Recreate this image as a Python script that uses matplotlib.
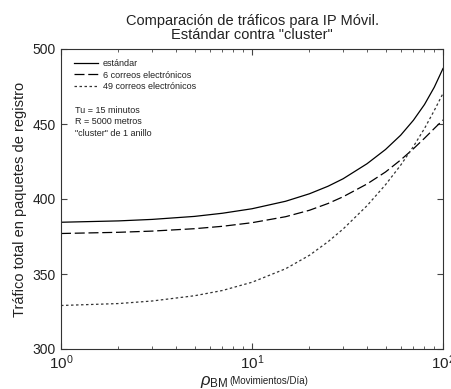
import matplotlib
matplotlib.use("Agg")
import matplotlib.pyplot as plt
from matplotlib.ticker import LogLocator, NullFormatter

plt.rcParams['font.family'] = ['Liberation Sans', 'DejaVu Sans']
plt.rcParams['mathtext.fontset'] = 'custom'
plt.rcParams['mathtext.rm'] = 'Liberation Sans'
plt.rcParams['mathtext.it'] = 'Liberation Sans:italic'

# movement rate (per day)
rho = [1, 2, 3, 5, 7, 10, 15, 20, 25, 30, 40, 50, 60, 70, 80, 90, 100]

# total traffic in registration packets
estandar = [384.5, 385.4, 386.4, 388.4, 390.5, 393.5, 398.5, 403.5, 408.5, 413.5,
            423.5, 433.0, 442.5, 452.5, 463.0, 474.5, 487.0]
correos_6 = [377.0, 377.8, 378.6, 380.2, 381.8, 384.2, 388.2, 392.5, 397.0, 401.5,
             410.0, 418.0, 426.0, 433.5, 440.5, 447.0, 452.7]
correos_49 = [329.0, 330.3, 332.0, 335.5, 339.0, 344.5, 353.5, 362.5, 371.5, 380.0,
              395.5, 409.5, 422.5, 435.0, 447.0, 459.0, 470.4]

labels = ['estándar', '6 correos electrónicos', '49 correos electrónicos']
notes = ['Tu = 15 minutos', 'R = 5000 metros', '"cluster" de 1 anillo']

W, H = 451, 389
fig = plt.figure(figsize=(W / 100, H / 100), dpi=100)
ax = fig.add_axes([61 / W, 1 - 349 / H, 382 / W, 300 / H])

ax.plot(rho, estandar, color='black', lw=0.9, label=labels[0])
ax.plot(rho, correos_6, color='black', lw=0.9, dashes=(8, 3), label=labels[1])
ax.plot(rho, correos_49, color='#333333', lw=0.9, dashes=(2, 2), label=labels[2])

ax.set_xscale('log')
ax.set_xlim(1, 100)
ax.set_ylim(300, 500)
ax.set_yticks([300, 350, 400, 450, 500])
ax.xaxis.set_major_locator(LogLocator(base=10, numticks=5))
ax.xaxis.set_minor_locator(LogLocator(base=10, subs=range(2, 10), numticks=20))
ax.xaxis.set_minor_formatter(NullFormatter())
ax.tick_params(which='both', direction='in', top=True, right=True,
               color='#444444', labelsize=10, labelcolor='#222222')
ax.tick_params(which='major', length=4)
ax.tick_params(which='minor', length=2)
ax.tick_params(axis='x', labelsize=11, pad=3)
for s in ax.spines.values():
    s.set_color('#333333')
    s.set_linewidth(0.8)

ax.set_ylabel('Tráfico total en paquetes de registro', fontsize=10.5, color='#222222',
              labelpad=4)
ax.set_title('Comparación de tráficos para IP Móvil.\nEstándar contra "cluster"',
             fontsize=10.5, color='#222222', linespacing=1.0, pad=7)

fig.text(228 / W, 1 - 382 / H, r'$\rho_{\mathrm{BM}}$', fontsize=12, ha='right',
         va='center', color='#222222')
fig.text(229 / W, 1 - 381 / H, '(Movimientos/Día)', fontsize=7, ha='left',
         va='center', color='#222222')

leg = ax.legend(loc='upper left', bbox_to_anchor=(0.02, 0.985), frameon=False,
                fontsize=6.5, handlelength=2.6, handletextpad=0.6,
                labelspacing=0.3, borderaxespad=0.2)
for t in leg.get_texts():
    t.set_color('#222222')

ax.text(0.037, 0.81, '\n'.join(notes), transform=ax.transAxes, fontsize=6.5,
        va='top', ha='left', linespacing=1.35, color='#222222')

fig.savefig('out.png', dpi=100)
